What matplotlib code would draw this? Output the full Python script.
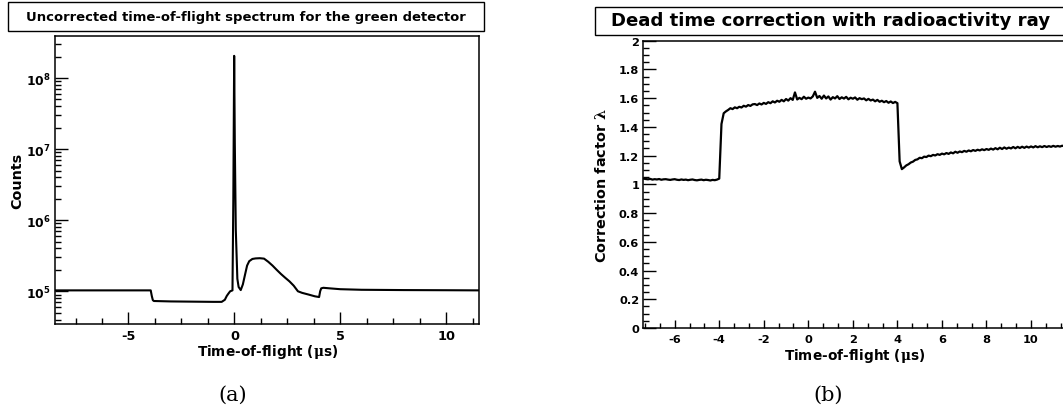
import numpy as np
import matplotlib
matplotlib.use("Agg")
import matplotlib.pyplot as plt
from matplotlib.ticker import LogLocator, MultipleLocator, FixedLocator, NullFormatter, FuncFormatter
from matplotlib.patches import Rectangle

plt.rcParams['font.family'] = ['DejaVu Sans']
plt.rcParams['font.weight'] = 'bold'
plt.rcParams['mathtext.fontset'] = 'custom'
plt.rcParams['mathtext.rm'] = 'DejaVu Serif'
plt.rcParams['mathtext.bf'] = 'DejaVu Sans:bold'
plt.rcParams['mathtext.it'] = 'DejaVu Serif:italic'

# ---------------- data: panel (a) uncorrected spectrum ----------------
tof_a = [-8.5, -3.95, -3.9, -3.85, -3.8, -3.0, -2.0, -1.0, -0.6, -0.45, -0.36, -0.28,
         -0.2, -0.09, -0.05, -0.01, 0.02, 0.066, 0.14, 0.2, 0.3, 0.4, 0.5, 0.6, 0.7,
         0.85, 1.0, 1.2, 1.4, 1.6, 1.8, 2.0, 2.2, 2.4, 2.6, 2.8, 3.0, 3.2, 3.5, 3.8,
         4.0, 4.05, 4.1, 4.2, 4.5, 5.0, 6.0, 8.0, 10.0, 11.6]
counts_a = [1.03e5, 1.03e5, 8.6e4, 7.5e4, 7.3e4, 7.2e4, 7.15e4, 7.1e4, 7.1e4, 7.6e4, 8.6e4,
            9.3e4, 1.0e5, 1.03e5, 2.0e6, 2.05e8, 1.2e7, 7.4e5, 1.5e5, 1.15e5, 1.04e5,
            1.25e5, 1.7e5, 2.3e5, 2.65e5, 2.85e5, 2.9e5, 2.92e5, 2.88e5, 2.6e5, 2.3e5,
            2.0e5, 1.75e5, 1.55e5, 1.38e5, 1.2e5, 1.0e5, 9.5e4, 9.0e4, 8.5e4, 8.3e4,
            1.0e5, 1.1e5, 1.12e5, 1.1e5, 1.07e5, 1.05e5, 1.04e5, 1.035e5, 1.03e5]

# ---------------- data: panel (b) correction factor ----------------
tof_b_start, tof_b_step = -7.4, 0.1
lam_b = [
    # -7.4 .. -4.1
    1.040, 1.037, 1.035, 1.038, 1.033, 1.036, 1.034, 1.037, 1.032, 1.035,
    1.036, 1.033, 1.031, 1.034, 1.036, 1.032, 1.030, 1.034, 1.031, 1.033,
    1.029, 1.032, 1.034, 1.030, 1.028, 1.031, 1.033, 1.029, 1.032, 1.030,
    1.027, 1.031, 1.029, 1.033,
    # -4.0 .. -3.7
    1.040, 1.420, 1.495, 1.508,
    # -3.6 .. -0.1
    1.518, 1.530, 1.524, 1.536, 1.530, 1.540, 1.535, 1.547, 1.541, 1.552,
    1.546, 1.557, 1.559, 1.552, 1.563, 1.556, 1.567, 1.560, 1.572, 1.565,
    1.578, 1.570, 1.582, 1.575, 1.588, 1.578, 1.594, 1.583, 1.600, 1.588,
    1.640, 1.591, 1.602, 1.593, 1.610, 1.596,
    # 0.0 .. 3.9
    1.604, 1.598, 1.612, 1.645, 1.602, 1.615, 1.596, 1.618, 1.598, 1.612,
    1.590, 1.607, 1.598, 1.614, 1.594, 1.606, 1.597, 1.609, 1.592, 1.603,
    1.596, 1.605, 1.589, 1.600, 1.593, 1.598, 1.585, 1.595, 1.584, 1.590,
    1.578, 1.588, 1.575, 1.582, 1.572, 1.580, 1.568, 1.577, 1.566, 1.574,
    # 4.0 .. 11.5
    1.565, 1.160, 1.106, 1.118, 1.132, 1.140, 1.152, 1.158, 1.170, 1.174,
    1.185, 1.182, 1.193, 1.190, 1.200, 1.196, 1.205, 1.201, 1.210, 1.205,
    1.214, 1.209, 1.218, 1.212, 1.222, 1.216, 1.227, 1.220, 1.229, 1.224,
    1.233, 1.227, 1.236, 1.230, 1.239, 1.233, 1.241, 1.236, 1.244, 1.238,
    1.246, 1.240, 1.249, 1.242, 1.252, 1.244, 1.255, 1.246, 1.257, 1.248,
    1.256, 1.250, 1.260, 1.251, 1.261, 1.253, 1.262, 1.254, 1.263, 1.256,
    1.264, 1.257, 1.266, 1.258, 1.265, 1.259, 1.267, 1.260, 1.266, 1.261,
    1.268, 1.262, 1.267, 1.263, 1.269, 1.264,
]
tof_b = tof_b_start + tof_b_step * np.arange(len(lam_b))

title_a = "Uncorrected time-of-flight spectrum for the green detector"
title_b = "Dead time correction with radioactivity ray"
xlabel = r"Time-of-flight ($\mathrm{\mu}$s)"
ylabel_a = "Counts"
ylabel_b = r"Correction factor $\mathrm{\lambda}$"

W, H = 1063, 410
fig = plt.figure(figsize=(W / 100, H / 100), dpi=100)

def fx(px):
    return px / W

def fy(py):
    return 1 - py / H

# ---------------- panel (a) ----------------
ax1 = fig.add_axes([fx(55), fy(324.7), fx(479 - 55), (324.7 - 37) / H])
ax1.plot(tof_a, counts_a, color='black', lw=1.5)
ax1.set_yscale('log')
ax1.set_xlim(-8.47, 11.55)
ax1.set_ylim(3.5e4, 3.9e8)
ax1.xaxis.set_major_locator(FixedLocator([-5, 0, 5, 10]))
ax1.xaxis.set_minor_locator(MultipleLocator(1.25))
ax1.yaxis.set_major_locator(LogLocator(base=10, subs=(1.0,)))
ax1.yaxis.set_minor_locator(LogLocator(base=10, subs=np.arange(2, 10)))
ax1.yaxis.set_minor_formatter(NullFormatter())
ax1.yaxis.set_major_formatter(FuncFormatter(lambda v, p: r"$\mathbf{10^{%d}}$" % round(np.log10(v))))
ax1.xaxis.set_major_formatter(FuncFormatter(lambda v, p: "%g" % v))
ax1.tick_params(which='both', direction='in', top=False, right=False, width=1.0)
ax1.tick_params(axis='x', which='major', length=9, labelsize=9.3, pad=4)
ax1.tick_params(axis='x', which='minor', length=4)
ax1.tick_params(axis='y', which='major', length=9, labelsize=8.8, pad=3)
ax1.tick_params(axis='y', which='minor', length=4.5)
for s in ax1.spines.values():
    s.set_linewidth(1.1)
fig.text(fx(268), fy(352), xlabel, ha='center', va='center', fontsize=9.8, fontweight='bold')
fig.text(fx(17), fy(181), ylabel_a, ha='center', va='center', rotation=90, fontsize=10.3, fontweight='bold')

fig.patches.append(Rectangle((fx(8), fy(32.3)), fx(484 - 8), (32.3 - 3.3) / H,
                             transform=fig.transFigure, facecolor='white',
                             edgecolor='black', lw=1.0))
fig.text(fx(246), fy(17.5), title_a, ha='center', va='center', fontsize=9.45, fontweight='bold')
fig.text(fx(233), fy(395), "(a)", ha='center', va='center', fontsize=15,
         family='DejaVu Serif', fontweight='normal')

# ---------------- panel (b) ----------------
ax2 = fig.add_axes([fx(643.3), fy(329), fx(1066 - 643.3), (329 - 41.7) / H])
ax2.plot(tof_b, lam_b, color='black', lw=1.6)
ax2.set_xlim(-7.41, 11.57)
ax2.set_ylim(0, 2)
ax2.xaxis.set_major_locator(MultipleLocator(2))
ax2.xaxis.set_minor_locator(MultipleLocator(2 / 3))
ax2.yaxis.set_major_locator(MultipleLocator(0.2))
ax2.yaxis.set_minor_locator(MultipleLocator(0.05))
ax2.xaxis.set_major_formatter(FuncFormatter(lambda v, p: "%g" % round(v, 1)))
ax2.yaxis.set_major_formatter(FuncFormatter(lambda v, p: "%g" % round(v, 1)))
ax2.tick_params(which='both', direction='in', top=False, right=False, width=1.0)
ax2.tick_params(axis='x', which='major', length=6, labelsize=8.2, pad=4)
ax2.tick_params(axis='x', which='minor', length=3.5)
ax2.tick_params(axis='y', which='major', length=9, labelsize=8.2, pad=3)
ax2.tick_params(axis='y', which='minor', length=4.5)
for s in ax2.spines.values():
    s.set_linewidth(1.1)
fig.text(fx(854.5), fy(356), xlabel, ha='center', va='center', fontsize=9.8, fontweight='bold')
fig.text(fx(602), fy(186), ylabel_b, ha='center', va='center', rotation=90, fontsize=10.4, fontweight='bold')

fig.patches.append(Rectangle((fx(595), fy(36)), fx(1067 - 595), (36 - 8.3) / H,
                             transform=fig.transFigure, facecolor='white',
                             edgecolor='black', lw=1.0, clip_on=False))
fig.text(fx(831), fy(21.5), title_b, ha='center', va='center', fontsize=13.1, fontweight='bold')
fig.text(fx(828), fy(395), "(b)", ha='center', va='center', fontsize=15,
         family='DejaVu Serif', fontweight='normal')

fig.savefig("out.png", dpi=100)
